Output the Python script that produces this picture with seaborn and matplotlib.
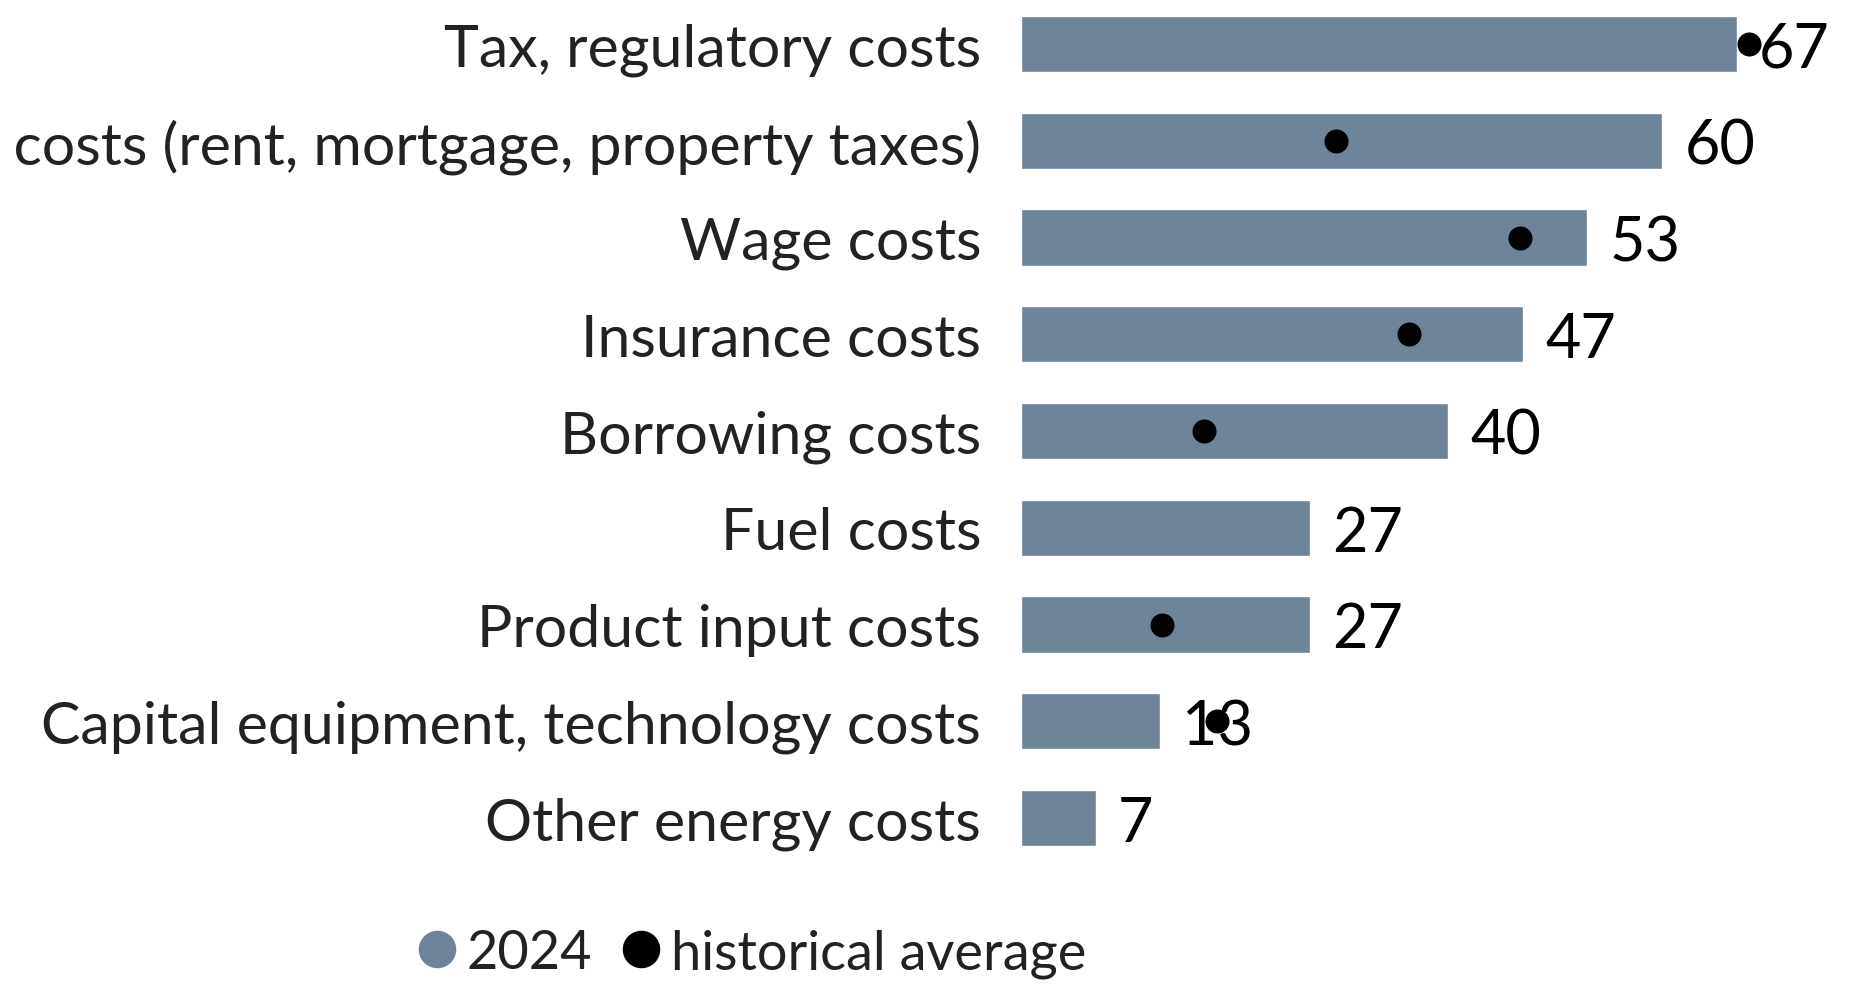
import numpy as np
import pandas as pd
import matplotlib
matplotlib.use("Agg")
import matplotlib.pyplot as plt
from matplotlib.lines import Line2D
import seaborn as sns

categories = [
    "Tax, regulatory costs",
    "Real estate costs (rent, mortgage, property taxes)",
    "Wage costs",
    "Insurance costs",
    "Borrowing costs",
    "Fuel costs",
    "Product input costs",
    "Capital equipment, technology costs",
    "Other energy costs",
]
values_2024 = [67, 60, 53, 47, 40, 27, 27, 13, 7]
historical_avg = [68.1, 29.5, 46.7, 36.3, 17.1, np.nan, 13.2, 18.3, np.nan]
legend_labels = ["2024", "historical average"]

BAR_COLOR = "#6e8499"
DOT_COLOR = "#000000"
TEXT_COLOR = "#222222"

sns.set_theme(style="white")
plt.rcParams["font.family"] = ["Lato", "DejaVu Sans"]

W, H = 1869, 995
fig = plt.figure(figsize=(W / 100, H / 100), dpi=100)

# axes placement in pixels: zero line at x=1021, rows centred 45..819
x0_px, x_right_px = 1021, 1869
row_top, row_bottom = 45, 819
pitch = (row_bottom - row_top) / 8
ax_top_px = row_top - pitch / 2
ax_bot_px = row_bottom + pitch / 2
ax = fig.add_axes([x0_px / W, 1 - ax_bot_px / H,
                   (x_right_px - x0_px) / W, (ax_bot_px - ax_top_px) / H])

df = pd.DataFrame({"category": categories, "value": values_2024,
                   "hist": historical_avg})

sns.barplot(data=df, x="value", y="category", order=categories, orient="h",
            color=BAR_COLOR, width=0.58, saturation=1, ax=ax)
labels = ax.bar_label(ax.containers[0], padding=16, fontsize=44, color="black")
for t in labels:
    t.set_verticalalignment("center_baseline")

sns.stripplot(data=df.dropna(subset=["hist"]), x="hist", y="category",
              order=categories, orient="h", jitter=False, color=DOT_COLOR,
              size=17.3, linewidth=0, ax=ax, zorder=3)

px_per_unit = (1737 - x0_px) / 67
ax.set_xlim(0, (x_right_px - x0_px) / px_per_unit)
ax.set_ylim(8.5, -0.5)
ax.set_xlabel("")
ax.set_ylabel("")
ax.set_xticks([])
ax.tick_params(axis="y", length=0, pad=28.8, labelsize=42.5, labelcolor=TEXT_COLOR)
for s in ax.spines.values():
    s.set_visible(False)

handles = [
    Line2D([], [], linestyle="none", marker="o", markersize=27,
           markerfacecolor=BAR_COLOR, markeredgewidth=0),
    Line2D([], [], linestyle="none", marker="o", markersize=27,
           markerfacecolor=DOT_COLOR, markeredgewidth=0),
]
fig.legend(handles, legend_labels, loc="center",
           bbox_to_anchor=(752 / W, 1 - 954 / H), ncol=2, frameon=False,
           fontsize=39, labelcolor=TEXT_COLOR, handlelength=0.7,
           handletextpad=0.2, columnspacing=0.55, borderpad=0, borderaxespad=0)

fig.savefig("out.png", dpi=100)
